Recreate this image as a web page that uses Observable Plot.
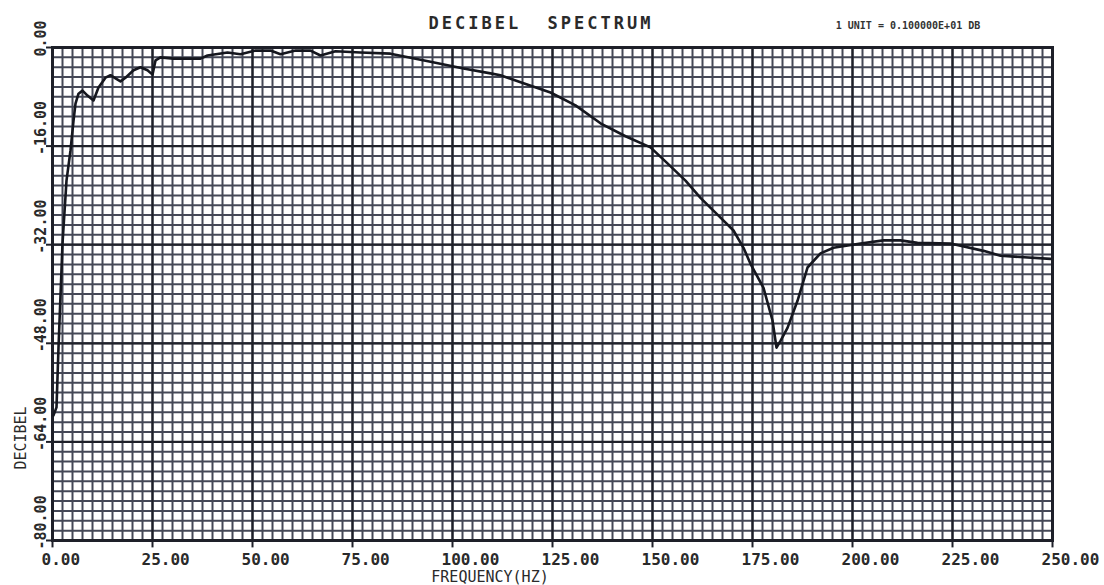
<!DOCTYPE html>
<html>
<head>
<meta charset="utf-8">
<script src="https://cdn.jsdelivr.net/npm/d3@7"></script>
<script src="https://cdn.jsdelivr.net/npm/@observablehq/plot@0.6"></script>
<style>
  html, body { margin: 0; padding: 0; background: #fff; }
  #chart svg { display: block; }
</style>
</head>
<body>
<div id="chart"></div>
<script>
// ---- data ----
const freqHz = [0.25, 1.0, 1.5, 2.5, 3.5, 4.5, 5.25, 5.75, 6.5, 7.5, 8.75, 10.25, 11.5, 13.25, 14.5, 15.75, 17, 18.25,
  20.25, 22, 23.75, 25, 25.75, 27, 30.25, 37, 38.75, 43.75, 47, 50.75, 54.5, 57, 60.75, 64.5, 67, 70.75, 77, 84.5,
  94.5, 102.75, 109.5, 112, 117.75, 124.5, 130.75, 137, 143.25, 149.5, 153.75, 158.25, 162, 167, 170.25, 172.75,
  174.5, 177.75, 180, 181, 182, 183.75, 186.25, 188.75, 192, 195.25, 202, 207.75, 212, 216.25, 224.5, 232.75, 237, 249.5];
const decibel = [-59.7, -58.4, -48.7, -31.8, -21.6, -16.7, -11.9, -9.1, -7.5, -7.0, -7.8, -8.6, -6.5, -4.9, -4.5, -5.0, -5.5, -4.9,
  -3.7, -3.2, -3.7, -4.4, -2.1, -1.6, -1.8, -1.8, -1.3, -0.8, -1.1, -0.5, -0.5, -1.1, -0.5, -0.5, -1.3, -0.6, -0.8, -1.0,
  -2.3, -3.4, -4.2, -4.5, -5.8, -7.3, -9.4, -12.3, -14.4, -16.2, -18.8, -21.6, -24.4, -27.6, -29.7, -32.5,
  -35.1, -39.0, -44.3, -48.7, -47.6, -45.5, -41.1, -35.7, -33.4, -32.5, -31.8, -31.3, -31.3, -31.7, -31.8, -33.0, -33.8, -34.3];

const xTickValues = [0, 25, 50, 75, 100, 125, 150, 175, 200, 225, 250];
const xTickLabels = ["0.00", "25.00", "50.00", "75.00", "100.00", "125.00", "150.00", "175.00", "200.00", "225.00", "250.00"];
const yTickValues = [0, -16, -32, -48, -64, -80];
const yTickLabels = ["0.00", "-16.00", "-32.00", "-48.00", "-64.00", "-80.00"];

const titleText = "DECIBEL  SPECTRUM";
const unitText = "1 UNIT = 0.100000E+01 DB";
const xLabel = "FREQUENCY(HZ)";
const yLabel = "DECIBEL";

// grid subdivisions (10 per major division)
const xMinor = d3.range(0, 101).map(i => i * 2.5);
const yMinor = d3.range(0, 51).map(i => -i * 1.6);

const points = freqHz.map((f, i) => ({f, db: decibel[i]}));
const gridMinor = "#454857";
const ink = "#1e2029";
const mono = "DejaVu Sans Mono, Liberation Mono, monospace";

const chart = Plot.plot({
  width: 1104,
  height: 585,
  marginLeft: 52,
  marginRight: 52,
  marginTop: 47,
  marginBottom: 45,
  x: {domain: [0, 250], axis: null},
  y: {domain: [-80, 0], axis: null},
  style: {background: "#fff", fontFamily: mono},
  marks: [
    Plot.ruleX(xMinor, {stroke: gridMinor, strokeWidth: 2}),
    Plot.ruleY(yMinor, {stroke: gridMinor, strokeWidth: 2}),
    Plot.ruleX(xTickValues, {stroke: ink, strokeWidth: 2.2}),
    Plot.ruleY(yTickValues, {stroke: ink, strokeWidth: 2.2}),
    // outer tick marks
    Plot.ruleX(xTickValues, {y1: -80, y2: -81.2, stroke: ink, strokeWidth: 2}),
    Plot.ruleY(yTickValues, {x1: 0, x2: -1.5, stroke: ink, strokeWidth: 2}),
    Plot.frame({stroke: ink, strokeWidth: 3}),
    Plot.line(points, {x: "f", y: "db", stroke: "#15171f", strokeWidth: 2.6, strokeLinejoin: "round"}),
    Plot.text(xTickValues, {
      x: d => d, y: -80, text: (d, i) => xTickLabels[i],
      textAnchor: "start", dx: -11, dy: 19, fontSize: 16, fontWeight: "bold", fill: "#2a2a2a"
    }),
    Plot.text(yTickValues, {
      x: 0, y: d => d, text: (d, i) => yTickLabels[i],
      rotate: -90, textAnchor: "start", lineAnchor: "middle", dx: -11, dy: 9,
      fontSize: 15, fontWeight: "bold", fill: "#2a2a2a"
    })
  ]
});

const svg = d3.select(chart);
svg.append("text")
  .attr("x", 541).attr("y", 24)
  .attr("text-anchor", "middle").attr("dominant-baseline", "middle")
  .attr("font-family", mono).attr("font-size", 17).attr("font-weight", "bold").attr("fill", "#2a2a2a")
  .style("letter-spacing", "3px").style("white-space", "pre")
  .text(titleText);
svg.append("text")
  .attr("x", 908).attr("y", 26)
  .attr("text-anchor", "middle").attr("dominant-baseline", "middle")
  .attr("font-family", mono).attr("font-size", 10).attr("font-weight", "bold").attr("fill", "#333")
  .text(unitText);
svg.append("text")
  .attr("x", 490).attr("y", 577)
  .attr("text-anchor", "middle").attr("dominant-baseline", "middle")
  .attr("font-family", mono).attr("font-size", 15).attr("fill", "#2a2a2a")
  .text(xLabel);
svg.append("text")
  .attr("transform", "translate(21,438) rotate(-90)")
  .attr("text-anchor", "middle").attr("dominant-baseline", "middle")
  .attr("font-family", mono).attr("font-size", 15).attr("fill", "#2a2a2a")
  .text(yLabel);

document.getElementById("chart").appendChild(chart);
</script>
</body>
</html>
